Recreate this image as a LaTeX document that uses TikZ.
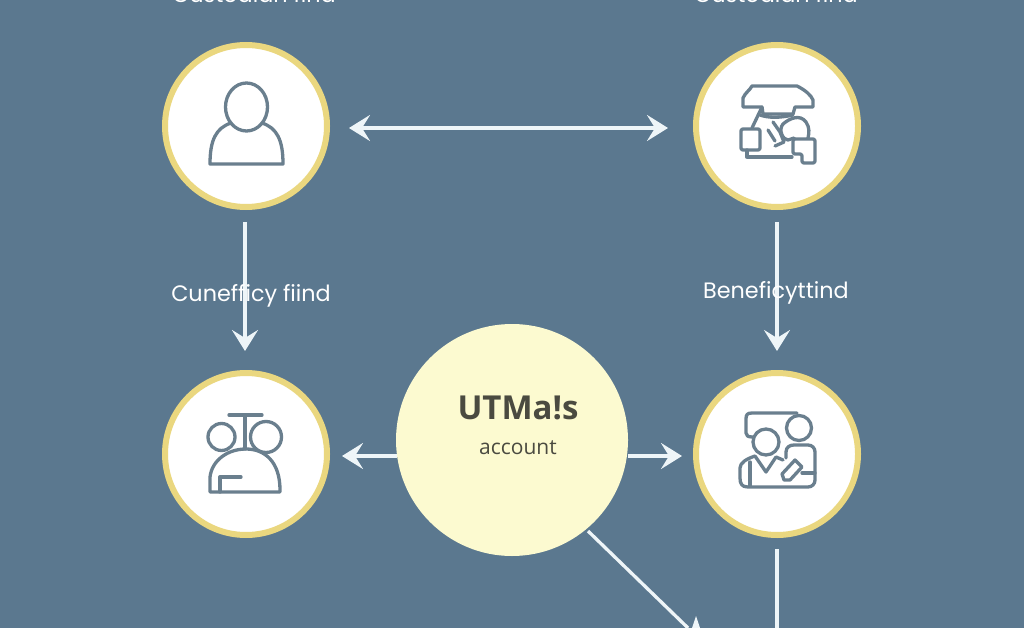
\documentclass[tikz,border=0pt]{standalone}
\usepackage{fontspec}
\setmainfont{Open Sans}
\newfontfamily\labfont{Poppins}
\usetikzlibrary{arrows.meta}
\definecolor{bgblue}{HTML}{5B788F}
\definecolor{ringy}{HTML}{EAD77F}
\definecolor{cream}{HTML}{FCFAD0}
\definecolor{iconc}{HTML}{6A7F8E}
\definecolor{inkc}{HTML}{4A4A40}
\definecolor{wline}{HTML}{EEF5F8}
\tikzset{
  ringnode/.style={circle,draw=ringy,line width=6pt,fill=white,minimum size=162pt,inner sep=0pt},
  hub/.style={circle,fill=cream,minimum size=232pt,inner sep=0pt},
  tipw/.tip={Stealth[length=21pt,width=26pt,inset=8pt]},
  link/.style={draw=wline,line width=3.3pt,-tipw},
  linkb/.style={draw=wline,line width=3.3pt,tipw-tipw},
  plain/.style={draw=wline,line width=3.3pt},
  icon/.style={draw=iconc,line width=3.3pt,line join=round,line cap=round},
  lab/.style={text=white,font=\labfont\fontsize{22.3}{24}\selectfont,inner sep=0pt},
}
\begin{document}
\begin{tikzpicture}[x=1pt,y=-1pt]
\useasboundingbox (0,0) rectangle (1024,628);
\clip (0,0) rectangle (1024,628);
\fill[bgblue] (0,0) rectangle (1024,628);
\node[ringnode] (a) at (246,126) {};
\node[ringnode] (b) at (777,126) {};
\node[ringnode] (c) at (246,454) {};
\node[ringnode] (d) at (777,454) {};
\node[hub] (h) at (512,440) {};
\node[text=inkc,font=\fontsize{33}{36}\selectfont\bfseries,inner sep=0pt] (t1) at (518,408) {UTMa!s};
\node[text=inkc,font=\fontsize{21}{24}\selectfont,inner sep=0pt] (t2) at (518,448) {account};
\node[lab] (top1) at (254,-6) {Custodian find};
\node[lab] (top2) at (776,-6) {Custodian find};
\coordinate (e1) at (688,628);
\coordinate (e2) at (777,628);
% connectors
\draw[linkb] (349,128) -- (668,128);
\draw[link] (245,222) -- (245,351);
\draw[link] (777,222) -- (777,351);
\draw[link] (397,456) -- (342,456);
\draw[link] (628,456) -- (682,456);
\draw[plain] (588,531) -- (e1);
\draw[plain] (777,549) -- (e2);
\fill[wline] (696,616) -- (692,628) -- (700,628) -- cycle;
\node[lab] (l1) at (251,296) {Cunefficy fiind};
\node[lab] (l2) at (776,293) {Beneficyttind};
% icon a
\draw[icon] (246.5,107) ellipse (21 and 24);
\draw[icon] (231,123) .. controls (216,128) and (210,140) .. (210,164) -- (283,164) .. controls (283,140) and (277,128) .. (262,123);
% icon b
\draw[icon] (743,107) -- (743,98) .. controls (745,93) and (750,90) .. (752,86) -- (797,86) .. controls (805,90) and (811,95) .. (813,100) -- (813,107) -- (795,107) -- (793,114) -- (763,114) -- (762,107) -- cycle;
\draw[icon] (762,107) -- (752,128);
\draw[icon] (760,115) .. controls (768,118) and (780,118) .. (793,115);
\draw[icon,rounded corners=2pt] (741,129) rectangle (760,150);
\draw[icon] (747,150) -- (747,157) -- (792,157);
\draw[icon] (783,124) .. controls (790,118) and (800,114) .. (806,122) .. controls (810,128) and (809,133) .. (808,138);
\draw[icon] (783,124) .. controls (778,130) and (783,140) .. (788,140) -- (794,138);
\draw[icon] (773,122) -- (780,132) -- (784,142) -- (775,146);
\draw[icon] (768,130) -- (775,141);
\draw[icon,rounded corners=2pt] (793,139) -- (815,139) -- (815,163) -- (802,163) -- (802,154) -- (793,154) -- cycle;
% icon c
\draw[icon] (221.5,437) circle (13.5);
\draw[icon] (266,437) circle (15.5);
\draw[icon] (229,415) -- (262,415);
\draw[icon] (245,416) -- (245,449);
\draw[icon] (210,492) -- (210,477) .. controls (212,460) and (228,449) .. (246,449) .. controls (265,449) and (280,462) .. (280,490) -- (280,492) -- cycle;
\draw[icon] (220,492) -- (220,477) -- (241,477);
% icon d
\draw[icon] (797,413) -- (752,413) .. controls (747,413) and (746,415) .. (746,419) -- (746,433) .. controls (746,436) and (748,437) .. (753,437);
\draw[icon] (766,442) circle (13);
\draw[icon] (799,428) circle (12.5);
\draw[icon] (786,458) -- (786,452) .. controls (786,447) and (790,445) .. (794,445) -- (808,445) .. controls (812,445) and (815,448) .. (815,452) -- (815,480) .. controls (815,484) and (812,487) .. (808,487) -- (748,487) .. controls (742,487) and (740,484) .. (740,478) -- (740,468) .. controls (740,463) and (746,459) .. (755,456) -- (766,472) -- (776,457) -- (783,460);
\draw[icon] (750,462) -- (750,486);
\draw[icon] (782,474) -- (795,460) -- (802,467) -- (790,480) -- (784,480) -- cycle;
\draw[icon] (802,473) -- (815,473);
\end{tikzpicture}
\end{document}
